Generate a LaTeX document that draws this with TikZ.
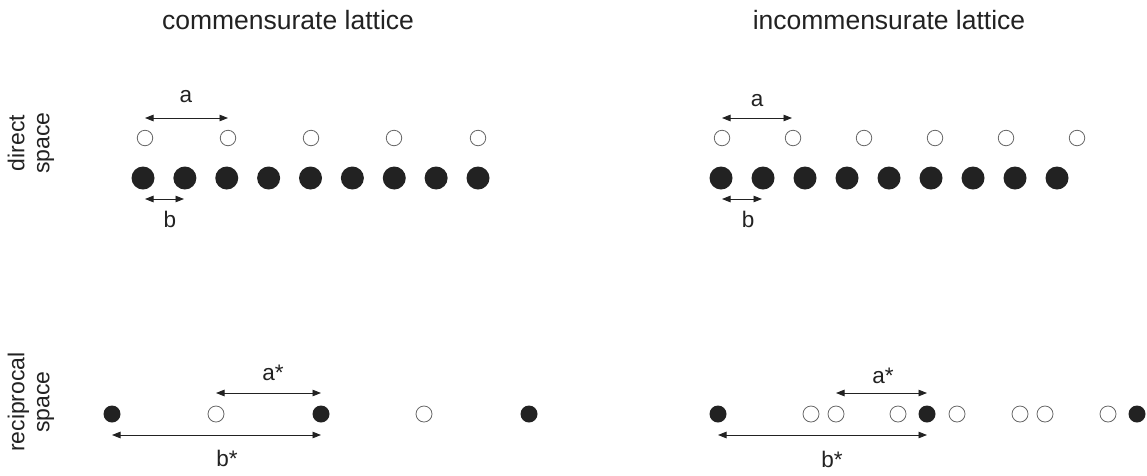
\documentclass[tikz,border=0pt]{standalone}
\usepackage{fontspec}
\setmainfont{Liberation Sans}
\usetikzlibrary{arrows.meta}
\definecolor{dotc}{HTML}{222222}
\definecolor{txtc}{HTML}{222222}
\definecolor{ringc}{HTML}{666666}
\begin{document}
\begin{tikzpicture}[x=1pt,y=-1pt,
  bigfull/.style={circle,fill=dotc,inner sep=0pt,minimum size=23pt},
  bigopen/.style={circle,draw=ringc,line width=0.8pt,fill=white,inner sep=0pt,minimum size=15.5pt},
  smfull/.style={circle,fill=dotc,inner sep=0pt,minimum size=17pt},
  smopen/.style={circle,draw=ringc,line width=0.8pt,fill=white,inner sep=0pt,minimum size=16pt},
  dimarrow/.style={draw=txtc,line width=0.9pt,{Triangle[length=8.5pt,width=6.5pt]}-{Triangle[length=8.5pt,width=6.5pt]}},
  title/.style={font=\fontsize{26.5}{31}\selectfont,text=txtc,inner sep=0pt},
  lbl/.style={font=\fontsize{22.5}{26}\selectfont,text=txtc,inner sep=0pt,anchor=base},
  side/.style={font=\fontsize{23}{25}\selectfont,text=txtc,inner sep=0pt,align=center,rotate=90}
]
\useasboundingbox[fill=white] (0,0) rectangle (1147,475);

% titles
\node[title] (t1) at (288,20) {commensurate lattice};
\node[title] (t2) at (889,20) {incommensurate lattice};

% side labels
\node[side] (s1) at (31,143) {direct\\space};
\node[side] (s2) at (31,402) {reciprocal\\space};

% ---- commensurate, direct space
\foreach \i/\x in {1/145,2/228,3/311,4/394,5/478}
  \node[bigopen] (lo\i) at (\x,138) {};
\foreach \i in {1,...,9}
  \node[bigfull] (lf\i) at ({143+41.875*(\i-1)},178) {};
\coordinate (la1) at (145,118);
\coordinate (la2) at (228,118);
\draw[dimarrow] (la1) -- (la2);
\node[lbl] (laL) at (186,102) {a};
\coordinate (lb1) at (145,199);
\coordinate (lb2) at (184,199);
\draw[dimarrow] (lb1) -- (lb2);
\node[lbl] (lbL) at (170,227) {b};

% ---- incommensurate, direct space
\foreach \i in {1,...,6}
  \node[bigopen] (ro\i) at ({722+71*(\i-1)},138) {};
\foreach \i in {1,...,9}
  \node[bigfull] (rf\i) at ({721+42*(\i-1)},178) {};
\coordinate (ra1) at (722,118);
\coordinate (ra2) at (792,118);
\draw[dimarrow] (ra1) -- (ra2);
\node[lbl] (raL) at (757,106) {a};
\coordinate (rb1) at (722,199);
\coordinate (rb2) at (762,199);
\draw[dimarrow] (rb1) -- (rb2);
\node[lbl] (rbL) at (748,227) {b};

% ---- commensurate, reciprocal space
\foreach \i/\x in {1/112,2/321,3/529}
  \node[smfull] (lF\i) at (\x,414) {};
\foreach \i/\x in {1/216,2/424}
  \node[smopen] (lO\i) at (\x,414) {};
\coordinate (lA1) at (216,393);
\coordinate (lA2) at (321,393);
\draw[dimarrow] (lA1) -- (lA2);
\node[lbl] (lAL) at (273,380) {a*};
\coordinate (lB1) at (112,435);
\coordinate (lB2) at (321,435);
\draw[dimarrow] (lB1) -- (lB2);
\node[lbl] (lBL) at (227,466) {b*};

% ---- incommensurate, reciprocal space
\foreach \i/\x in {1/718,2/927,3/1137}
  \node[smfull] (rF\i) at (\x,414) {};
\foreach \i/\x in {1/811,2/836,3/898,4/957,5/1020,6/1045,7/1108}
  \node[smopen] (rO\i) at (\x,414) {};
\coordinate (rA1) at (836,393);
\coordinate (rA2) at (927,393);
\draw[dimarrow] (rA1) -- (rA2);
\node[lbl] (rAL) at (883,383) {a*};
\coordinate (rB1) at (718,435);
\coordinate (rB2) at (927,435);
\draw[dimarrow] (rB1) -- (rB2);
\node[lbl] (rBL) at (832,467) {b*};
\end{tikzpicture}
\end{document}
